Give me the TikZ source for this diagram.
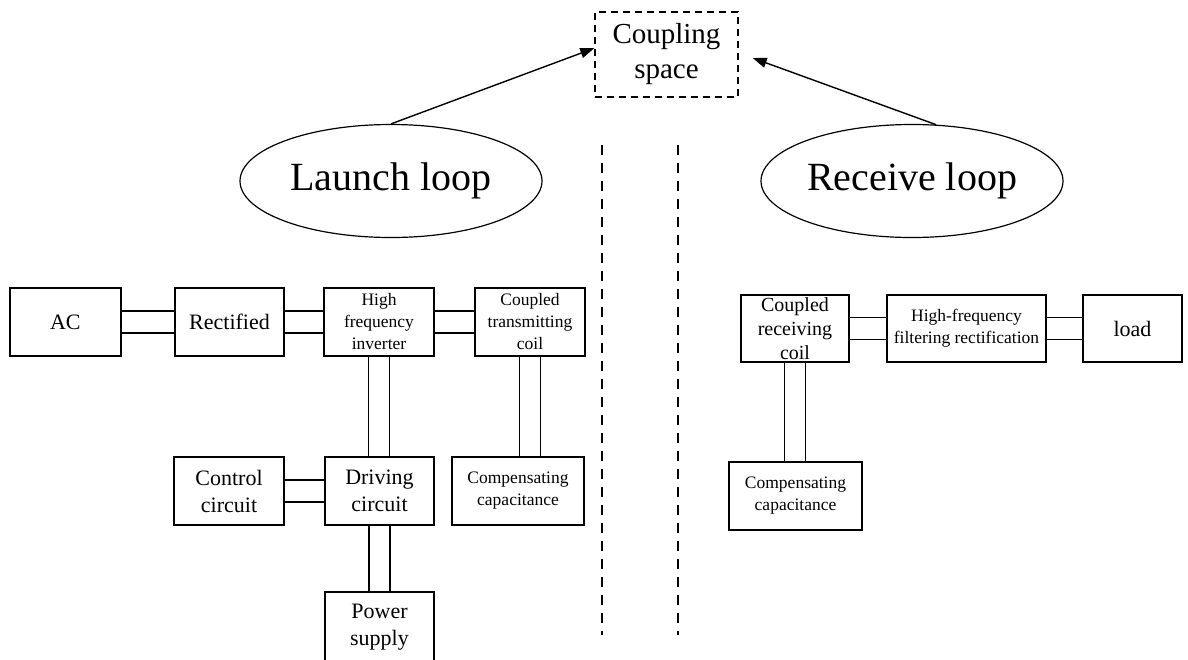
\documentclass[tikz,border=0pt]{standalone}
\usepackage{fontspec}
\setmainfont{Liberation Serif}
\usetikzlibrary{arrows.meta,shapes.geometric,calc}
\begin{document}
\begin{tikzpicture}[x=1pt,y=-1pt,
 box/.style={draw, line width=1.6pt, inner sep=0pt, align=center, minimum height=68},
 big/.style={font=\fontsize{22}{27}\selectfont},
 small/.style={font=\fontsize{17.5}{22}\selectfont},
 loopnode/.style={draw, ellipse, line width=1.2pt, minimum width=302, minimum height=113, inner sep=0pt, font=\fontsize{40}{44}\selectfont},
 wire/.style={line width=1.8pt},
 sepline/.style={line width=1.5pt, dash pattern=on 10pt off 8pt},
 arr/.style={line width=1.4pt, -{Triangle[length=14pt,width=10pt]}}]
\useasboundingbox (0,0) rectangle (1188,659);
\clip (0,0) rectangle (1188,659);
\fill[white] (0,0) rectangle (1188,659);

% coupling space
\node[draw, line width=1.4pt, dash pattern=on 7pt off 5pt, minimum width=143, minimum height=85, inner sep=0pt, align=center, font=\fontsize{29}{35}\selectfont] (cs) at (666.5,54.5) {Coupling\\space};

% loops
\node[loopnode] (launch) at (391,181) {Launch loop};
\node[loopnode] (receive) at (912,181) {Receive loop};

\coordinate (rtip) at ($(cs.east)+(14,3.5)$);
\draw[arr] (launch.north) -- (cs.175);
\draw[arr] (receive.67) -- (rtip);

% separators
\coordinate (s1t) at (602,145); \coordinate (s1b) at (602,635);
\coordinate (s2t) at (678,145); \coordinate (s2b) at (678,635);
\draw[sepline] (s1t) -- (s1b);
\draw[sepline] (s2t) -- (s2b);

% launch side
\node[box, big, minimum width=111] (ac) at (65.3,322) {AC};
\node[box, big, minimum width=109] (rect) at (229.5,322) {Rectified};
\node[box, small, minimum width=110] (hfi) at (379,322) {High\\frequency\\inverter};
\node[box, small, minimum width=110] (tx) at (530,322) {Coupled\\transmitting\\coil};
\node[box, big, minimum width=110] (ctrl) at (229,491) {Control\\circuit};
\node[box, big, minimum width=109] (drv) at (379.5,491) {Driving\\circuit};
\node[box, small, minimum width=132] (tcap) at (518,491) {Compensating\\capacitance};
\node[box, big, minimum width=109, minimum height=70] (pwr) at (379.5,627) {Power\\supply};

% receive side
\node[box, font=\fontsize{20}{24}\selectfont, minimum width=108, minimum height=67] (rxc) at (795,328.5) {Coupled\\receiving\\coil};
\node[box, small, minimum width=159, minimum height=67] (flt) at (966.5,328.5) {High-frequency\\filtering rectification};
\node[box, big, minimum width=99, minimum height=67] (load) at (1132.5,328.5) {load};
\node[box, small, minimum width=133] (rcap) at (795.5,496) {Compensating\\capacitance};

% double connectors
\foreach \a/\b in {ac/rect, rect/hfi, hfi/tx, ctrl/drv, rxc/flt, flt/load}{
  \foreach \s in {-11,11}{
    \path ([yshift=\s pt]\a.east) coordinate (p);
    \draw[wire] (p) -- (p -| \b.west);
  }
}
\foreach \a/\b in {hfi/drv, tx/tcap, drv/pwr, rxc/rcap}{
  \foreach \s in {-10.5,10.5}{
    \path ([xshift=\s pt]\a.south) coordinate (p);
    \draw[wire] (p) -- (p |- \b.north);
  }
}
\end{tikzpicture}
\end{document}
